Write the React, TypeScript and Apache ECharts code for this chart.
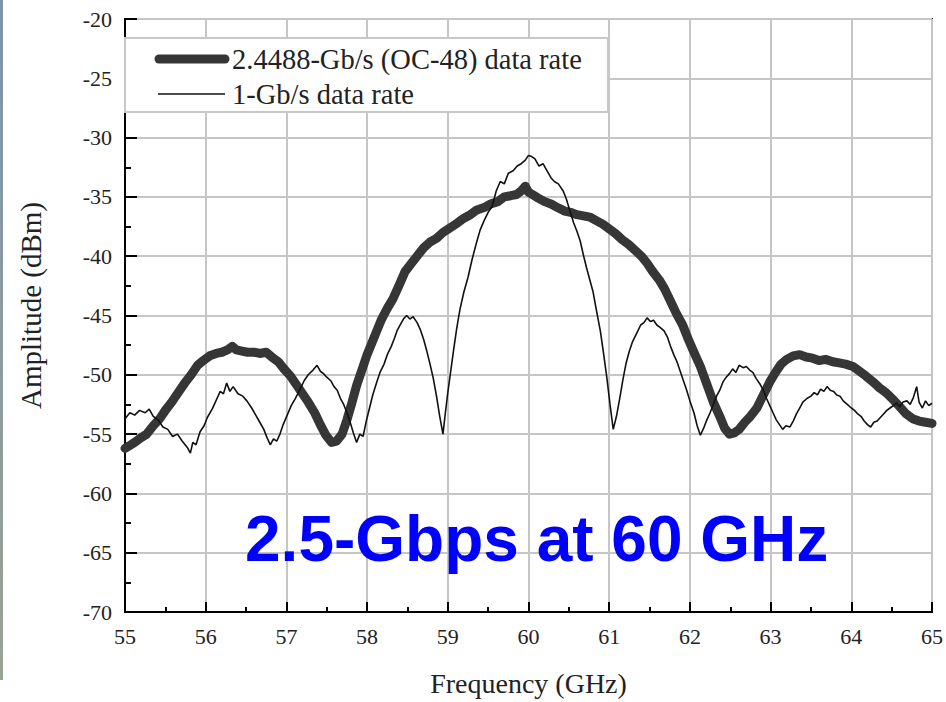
import React, { useEffect, useRef } from "react";
import * as echarts from "echarts";

// ---- Data ----
const xTicks = [55, 56, 57, 58, 59, 60, 61, 62, 63, 64, 65];
const yTicks = [-70, -65, -60, -55, -50, -45, -40, -35, -30, -25, -20];

const seriesNames = ["2.4488-Gb/s (OC-48) data rate", "1-Gb/s data rate"];

const thickFreq = [
  55.0, 55.05, 55.12, 55.2, 55.27, 55.35, 55.43, 55.5, 55.58, 55.66, 55.74, 55.82, 55.9, 55.97,
  56.05, 56.13, 56.2, 56.27, 56.33, 56.38, 56.45, 56.52, 56.6, 56.67, 56.75, 56.82, 56.9, 56.97,
  57.05, 57.12, 57.2, 57.27, 57.35, 57.42, 57.49, 57.56, 57.62, 57.69, 57.75, 57.81, 57.87, 57.94,
  58.0, 58.06, 58.12, 58.18, 58.25, 58.32, 58.4, 58.47, 58.55, 58.63, 58.7, 58.78, 58.86, 58.94,
  59.03, 59.12, 59.2, 59.28, 59.36, 59.45, 59.53, 59.62, 59.7, 59.78, 59.85, 59.91, 59.96, 60.0,
  60.05, 60.12, 60.2, 60.28, 60.36, 60.45, 60.52, 60.6, 60.68, 60.76, 60.84, 60.92, 61.0, 61.08,
  61.16, 61.24, 61.32, 61.4, 61.47, 61.54, 61.62, 61.69, 61.76, 61.83, 61.91, 61.98, 62.05, 62.13,
  62.21, 62.29, 62.37, 62.43, 62.49, 62.55, 62.61, 62.68, 62.75, 62.83, 62.91, 62.99, 63.06, 63.13,
  63.2, 63.28, 63.36, 63.44, 63.52, 63.6, 63.68, 63.77, 63.85, 63.93, 64.02, 64.1, 64.18, 64.27,
  64.35, 64.43, 64.52, 64.6, 64.68, 64.76, 64.84, 64.92, 65.0,
];
const thickAmp = [
  -56.2, -56.0, -55.7, -55.3, -55.0, -54.3, -53.7, -53.0, -52.3, -51.5, -50.7, -50.0, -49.2, -48.8,
  -48.4, -48.2, -48.1, -47.9, -47.6, -47.9, -48.0, -48.1, -48.1, -48.2, -48.1, -48.5, -48.9, -49.5,
  -50.1, -50.8, -51.6, -52.3, -53.2, -54.2, -55.1, -55.7, -55.6, -55.0, -53.8, -52.4, -50.9, -49.5,
  -48.3, -47.3, -46.3, -45.3, -44.4, -43.6, -42.4, -41.3, -40.6, -39.9, -39.3, -38.8, -38.5, -38.0,
  -37.6, -37.2, -36.8, -36.5, -36.1, -35.9, -35.6, -35.4, -35.0, -34.9, -34.8, -34.5, -34.1, -34.6,
  -34.8, -35.1, -35.4, -35.6, -35.9, -36.2, -36.3, -36.5, -36.6, -36.7, -37.0, -37.3, -37.7, -38.1,
  -38.6, -39.0, -39.5, -40.0, -40.6, -41.3, -42.0, -42.8, -43.8, -44.8, -45.8, -47.0, -48.1, -49.3,
  -50.8, -52.3, -53.5, -54.5, -55.0, -54.9, -54.6, -54.0, -53.5, -52.8, -51.7, -50.6, -49.8, -49.1,
  -48.7, -48.4, -48.3, -48.5, -48.6, -48.8, -48.7, -48.9, -49.0, -49.1, -49.3, -49.7, -50.1, -50.6,
  -51.1, -51.5, -52.1, -52.7, -53.3, -53.7, -53.9, -54.0, -54.1,
];

const thinFreq = [
  55.0, 55.06, 55.12, 55.18, 55.25, 55.3, 55.35, 55.41, 55.47, 55.53, 55.59, 55.65, 55.71, 55.77,
  55.81, 55.84, 55.88, 55.93, 55.98, 56.02, 56.08, 56.14, 56.18, 56.22, 56.26, 56.3, 56.34, 56.4,
  56.46, 56.51, 56.57, 56.62, 56.67, 56.72, 56.76, 56.8, 56.84, 56.88, 56.92, 56.96, 57.01, 57.06,
  57.11, 57.17, 57.22, 57.27, 57.33, 57.38, 57.42, 57.46, 57.5, 57.55, 57.59, 57.63, 57.67, 57.71,
  57.75, 57.79, 57.83, 57.87, 57.91, 57.95, 57.99, 58.03, 58.07, 58.12, 58.16, 58.21, 58.25, 58.3,
  58.34, 58.37, 58.41, 58.45, 58.49, 58.53, 58.57, 58.62, 58.66, 58.7, 58.74, 58.78, 58.82, 58.86,
  58.9, 58.94, 58.97, 59.0, 59.03, 59.07, 59.11, 59.15, 59.2, 59.25, 59.3, 59.35, 59.4, 59.45,
  59.5, 59.55, 59.6, 59.65, 59.7, 59.75, 59.81, 59.86, 59.91, 59.96, 60.0, 60.04, 60.08, 60.13,
  60.18, 60.23, 60.28, 60.32, 60.37, 60.43, 60.47, 60.51, 60.56, 60.6, 60.64, 60.68, 60.72, 60.76,
  60.8, 60.84, 60.89, 60.93, 60.97, 61.01, 61.05, 61.09, 61.13, 61.17, 61.21, 61.25, 61.29, 61.34,
  61.39, 61.43, 61.47, 61.51, 61.55, 61.59, 61.63, 61.68, 61.72, 61.76, 61.8, 61.84, 61.88, 61.92,
  61.96, 62.0, 62.05, 62.09, 62.13, 62.17, 62.21, 62.25, 62.29, 62.33, 62.37, 62.41, 62.45, 62.49,
  62.53, 62.57, 62.61, 62.66, 62.7, 62.74, 62.78, 62.82, 62.87, 62.91, 62.95, 62.99, 63.03, 63.07,
  63.11, 63.15, 63.19, 63.24, 63.28, 63.32, 63.36, 63.4, 63.45, 63.5, 63.54, 63.58, 63.62, 63.66,
  63.7, 63.74, 63.78, 63.82, 63.86, 63.9, 63.95, 64.0, 64.04, 64.08, 64.12, 64.16, 64.2, 64.24,
  64.28, 64.32, 64.36, 64.4, 64.44, 64.48, 64.52, 64.56, 64.6, 64.64, 64.69, 64.73, 64.77, 64.81,
  64.84, 64.88, 64.92, 64.96, 65.0,
];
const thinAmp = [
  -53.7, -53.2, -53.4, -53.0, -53.2, -52.9, -53.5, -53.8, -54.4, -54.6, -55.2, -55.0, -55.6, -56.1,
  -56.6, -55.7, -55.9, -54.8, -54.3, -53.6, -52.9, -52.0, -51.4, -51.6, -50.7, -51.4, -51.0, -51.6,
  -51.8, -52.2, -52.8, -53.4, -54.0, -54.6, -55.3, -55.9, -55.4, -55.6, -55.0, -54.2, -53.4, -52.6,
  -52.0, -51.2, -50.5, -50.0, -49.6, -49.2, -49.7, -49.9, -50.2, -50.5, -51.0, -51.3, -52.0, -52.5,
  -53.2, -54.0, -54.9, -55.7, -55.0, -55.2, -53.9, -52.8, -51.7, -50.6, -49.8, -49.1, -48.3, -47.6,
  -46.9, -46.3, -45.8, -45.3, -45.0, -45.3, -45.1, -45.6, -46.2, -47.0, -48.0, -49.1, -50.3, -51.8,
  -53.5, -55.0, -53.2, -51.5, -50.0, -48.0, -46.1, -44.5, -43.0, -41.8, -40.3, -39.0, -37.8, -37.0,
  -36.3, -35.8, -34.5, -33.7, -33.9, -33.0, -32.8, -32.4, -32.2, -31.9, -31.5, -31.6, -31.8, -32.4,
  -32.2, -32.8, -33.4, -33.7, -33.9, -34.5, -35.2, -36.1, -37.2, -37.9, -38.7, -39.9, -41.0, -42.0,
  -43.0, -44.5, -46.3, -48.2, -50.2, -52.5, -54.6, -53.5, -52.0, -50.4, -49.0, -48.0, -47.2, -46.5,
  -45.8, -45.6, -45.2, -45.5, -45.4, -45.8, -46.0, -46.3, -46.8, -47.6, -48.3, -48.9, -49.7, -50.5,
  -51.3, -52.2, -53.2, -54.3, -55.1, -54.5, -53.8, -53.2, -52.5, -51.8, -51.3, -50.6, -50.2, -49.9,
  -49.5, -49.8, -49.2, -49.4, -49.3, -49.6, -49.8, -50.3, -50.8, -51.3, -52.0, -52.6, -53.2, -53.8,
  -54.2, -54.6, -54.3, -54.4, -53.9, -53.3, -52.8, -52.3, -52.0, -51.8, -51.5, -51.7, -51.2, -51.4,
  -51.0, -51.3, -51.4, -51.7, -51.8, -52.2, -52.5, -52.8, -53.0, -53.3, -53.5, -53.9, -54.2, -54.4,
  -54.0, -53.9, -53.6, -53.3, -53.0, -52.8, -52.6, -52.4, -52.7, -52.3, -52.2, -52.5, -51.9, -51.0,
  -52.3, -52.8, -52.2, -52.6, -52.4,
];

const annotation = "2.5-Gbps at 60 GHz";
const xAxisName = "Frequency (GHz)";
const yAxisName = "Amplitude (dBm)";

const SERIF = '"Liberation Serif", "Times New Roman", Times, serif';
const SANS = '"Liberation Sans", Arial, Helvetica, sans-serif';

const THICK_COLOR = "#363636";
const THIN_COLOR = "#111111";

export default function App() {
  const ref = useRef<HTMLDivElement>(null);

  useEffect(() => {
    document.body.style.margin = "0";
    if (!ref.current) return;
    const chart = echarts.init(ref.current, undefined, { renderer: "svg" });

    const thickData = thickFreq.map((f, i) => [f, thickAmp[i]]);
    const thinData = thinFreq.map((f, i) => [f, thinAmp[i]]);

    chart.setOption({
      animation: false,
      backgroundColor: "#ffffff",
      grid: {
        left: 125,
        top: 19,
        right: 14,
        bottom: 87,
        show: true,
        borderColor: "#000",
        borderWidth: 2,
        backgroundColor: "transparent",
      },
      xAxis: {
        type: "value",
        min: xTicks[0],
        max: xTicks[xTicks.length - 1],
        interval: 1,
        name: xAxisName,
        nameLocation: "middle",
        nameGap: 57,
        nameTextStyle: { fontFamily: SERIF, fontSize: 28, color: "#222" },
        axisLine: { show: true, lineStyle: { color: "#000", width: 2 } },
        axisTick: { show: true, inside: true, length: 10, lineStyle: { color: "#000", width: 2 } },
        minorTick: { show: true, splitNumber: 2, length: 5, lineStyle: { color: "#000", width: 2 } },
        axisLabel: { fontFamily: SERIF, fontSize: 22, color: "#222", margin: 13 },
        splitLine: { show: true, lineStyle: { color: "#c6c6c6", width: 2 } },
      },
      yAxis: {
        type: "value",
        min: yTicks[0],
        max: yTicks[yTicks.length - 1],
        interval: 5,
        name: yAxisName,
        nameLocation: "middle",
        nameGap: 80,
        nameTextStyle: { fontFamily: SERIF, fontSize: 29, color: "#222", padding: [0, 0, 0, 20] },
        axisLine: { show: true, lineStyle: { color: "#000", width: 2 } },
        axisTick: { show: true, inside: true, length: 12, lineStyle: { color: "#000", width: 2 } },
        minorTick: { show: true, splitNumber: 2, length: 6, lineStyle: { color: "#000", width: 2 } },
        axisLabel: { fontFamily: SERIF, fontSize: 22, color: "#222", margin: 13 },
        splitLine: { show: true, lineStyle: { color: "#c6c6c6", width: 2 } },
      },
      legend: {
        show: true,
        orient: "vertical",
        left: 155,
        top: 44,
        padding: 0,
        itemGap: 5,
        itemWidth: 72,
        itemHeight: 10,
        z: 6,
        icon: "none",
        selectedMode: false,
        textStyle: { fontFamily: SERIF, fontSize: 28.5, color: "#222", lineHeight: 30 },
        data: seriesNames,
      },
      series: [
        {
          type: "line",
          name: seriesNames[0],
          data: thickData,
          symbol: "none",
          showSymbol: false,
          itemStyle: { color: THICK_COLOR },
          lineStyle: { color: THICK_COLOR, width: 9, cap: "round", join: "round" },
          z: 2,
        },
        {
          type: "line",
          name: seriesNames[1],
          data: thinData,
          symbol: "none",
          showSymbol: false,
          itemStyle: { color: THIN_COLOR },
          lineStyle: { color: THIN_COLOR, width: 1.6 },
          z: 3,
        },
      ],
      graphic: [
        {
          type: "rect",
          z: 5,
          shape: { x: 125, y: 38, width: 483, height: 74 },
          style: { fill: "#ffffff", stroke: "#c8c8c8", lineWidth: 2 },
        },
        {
          type: "line",
          z: 7,
          shape: { x1: 159, y1: 59, x2: 225, y2: 59 },
          style: { stroke: THICK_COLOR, lineWidth: 9, lineCap: "round" },
        },
        {
          type: "line",
          z: 7,
          shape: { x1: 158, y1: 94, x2: 225, y2: 94 },
          style: { stroke: THIN_COLOR, lineWidth: 1.6 },
        },
        {
          type: "text",
          z: 10,
          left: 245,
          top: 507,
          style: {
            text: annotation,
            fontFamily: SANS,
            fontWeight: "bold",
            fontSize: 64,
            fill: "#0000ff",
          },
        },
        {
          type: "rect",
          z: 10,
          shape: { x: 0, y: 0, width: 3, height: 680 },
          style: {
            fill: new echarts.graphic.LinearGradient(0, 0, 0, 1, [
              { offset: 0, color: "#7f93ab" },
              { offset: 1, color: "#97a394" },
            ]),
          },
        },
      ],
    });

    return () => chart.dispose();
  }, []);

  return <div ref={ref} style={{ width: 946, height: 702 }} />;
}
